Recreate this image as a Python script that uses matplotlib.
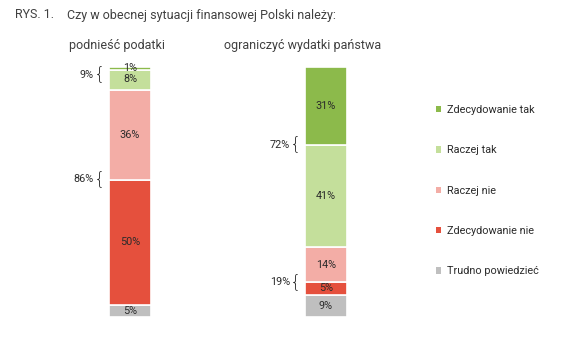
import matplotlib
matplotlib.use("Agg")
import matplotlib.pyplot as plt
from matplotlib.patches import Patch
import numpy as np

plt.rcParams['font.family'] = ['Roboto', 'DejaVu Sans']

categories = ["podnieść podatki", "ograniczyć wydatki państwa"]
series_names = ["Trudno powiedzieć", "Zdecydowanie nie", "Raczej nie", "Raczej tak", "Zdecydowanie tak"]
colors = ["#BFBFBF", "#E5503D", "#F3ADA6", "#C4DF9B", "#8CBA4B"]
values = {
    "Trudno powiedzieć": [5, 9],
    "Zdecydowanie nie": [50, 5],
    "Raczej nie": [36, 14],
    "Raczej tak": [8, 41],
    "Zdecydowanie tak": [1, 31],
}
bracket_labels = [["9%", "86%"], ["72%", "19%"]]
bracket_pos = [[97, 55], [69, 14]]

W, H = 569, 341
fig = plt.figure(figsize=(W / 100, H / 100), dpi=100)
ax = fig.add_axes([0, 24 / H, 1, 250 / H])
ax.set_ylim(0, 100)
# category 0 -> x=130 px, category 1 -> x=326 px
scale = 196.0
ax.set_xlim(-130 / scale, (W - 130) / scale)
ax.axis("off")

x = np.arange(len(categories))
width = 42 / scale
bottom = np.zeros(len(categories))
txt = "#2b2b2b"
for name, col in zip(series_names, colors):
    v = np.array(values[name], dtype=float)
    ax.bar(x, v, width, bottom=bottom, color=col, edgecolor="white", linewidth=1.2)
    for i in range(len(categories)):
        ax.text(x[i], bottom[i] + v[i] / 2, f"{int(v[i])}%", ha="center", va="center",
                fontsize=7.8, color=txt)
    bottom += v

for i in range(len(categories)):
    for lab, yv in zip(bracket_labels[i], bracket_pos[i]):
        ax.text(x[i] - width / 2 - 4 / scale, yv, "{", ha="right", va="center",
                fontsize=13, color="#1a1a1a", family="DejaVu Sans", fontweight="light")
        ax.text(x[i] - width / 2 - 15 / scale, yv, lab, ha="right", va="center",
                fontsize=7.8, color=txt)

# subtitles
fig.text(117 / W, 1 - 45 / H, categories[0], ha="center", va="center", fontsize=9, color="#404040")
fig.text(303 / W, 1 - 45 / H, categories[1], ha="center", va="center", fontsize=9, color="#404040")
# title
fig.text(15 / W, 1 - 15 / H, "RYS. 1.", ha="left", va="center", fontsize=9, color="#404040")
fig.text(67 / W, 1 - 15 / H, "Czy w obecnej sytuacji finansowej Polski należy:", ha="left",
         va="center", fontsize=9, color="#404040")

handles = [Patch(facecolor=c, edgecolor="none") for c in colors[::-1]]
leg = fig.legend(handles, series_names[::-1], loc="upper left", bbox_to_anchor=(436 / W, 1 - 105 / H),
                 frameon=False, fontsize=7.8, handlelength=0.5, handleheight=0.5,
                 handletextpad=0.5, labelspacing=2.8, borderpad=0, borderaxespad=0)
for t in leg.get_texts():
    t.set_color(txt)

fig.savefig("out.png", dpi=100)
